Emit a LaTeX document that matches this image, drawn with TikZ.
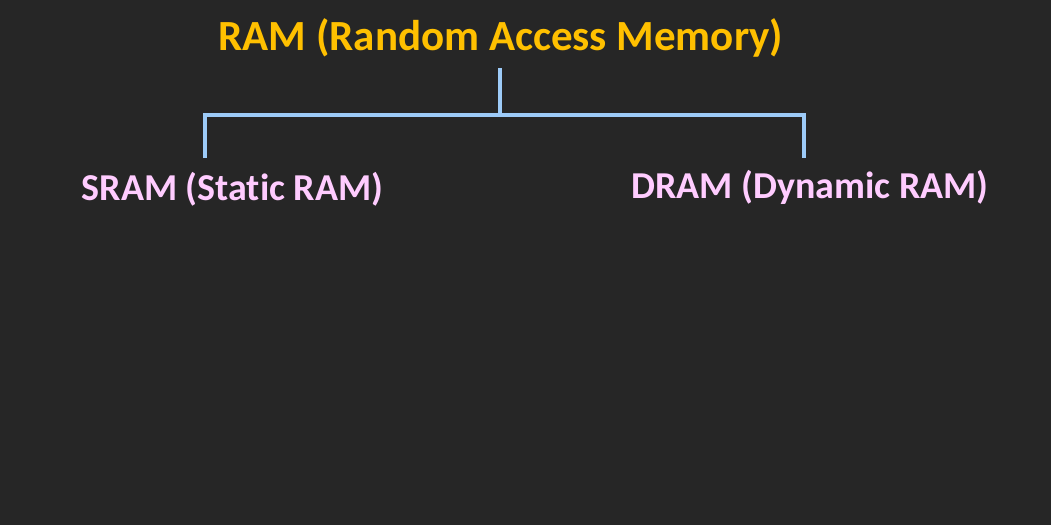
\documentclass[tikz,border=0pt]{standalone}
\usepackage{fontspec}
\setmainfont{Carlito}[Ligatures=NoCommon]
\usepackage{xcolor}
\usetikzlibrary{positioning}

\definecolor{bgdark}{HTML}{262626}
\definecolor{titlegold}{HTML}{FFC000}
\definecolor{kidpink}{HTML}{FFCCFF}
\definecolor{linkblue}{HTML}{9DCBF8}

\tikzset{
  title/.style={text=titlegold,font=\fontsize{43}{50}\selectfont\bfseries,inner sep=0pt},
  kid/.style={text=kidpink,font=\fontsize{38}{44}\selectfont\bfseries,inner sep=0pt},
  link/.style={draw=linkblue,line width=4pt}
}

\begin{document}
\begin{tikzpicture}[x=1pt,y=-1pt]
  % background, fixes the page size
  \fill[bgdark] (0,0) rectangle (1051,525);
  \useasboundingbox (0,0) rectangle (1051,525);

  % labels
  \node[title] (ram) at (501,38) {RAM (Random Access Memory)};
  \node[kid] (sram) at (232.5,189) {SRAM (Static RAM)};
  \node[kid] (dram) at (810,187) {DRAM (Dynamic RAM)};

  % bracket
  \coordinate (split) at (500,115);
  \coordinate (ramfoot) at (500,68);
  \coordinate (lt) at (205,115);
  \coordinate (rt) at (804,115);
  \coordinate (sramtop) at (205,158);
  \coordinate (dramtop) at (804,158);
  \draw[link] (ramfoot) -- (split);
  \draw[link] (sramtop) -- (lt) -- (rt) -- (dramtop);
\end{tikzpicture}
\end{document}
